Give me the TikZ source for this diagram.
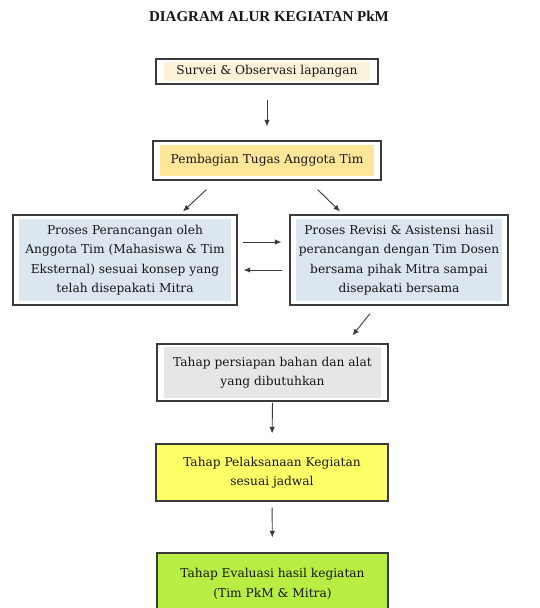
\documentclass[tikz,border=0pt]{standalone}
\usepackage{fontspec}
\setmainfont{Liberation Serif}
\newfontfamily\bodyfnt{DejaVu Serif}
\usetikzlibrary{arrows.meta}
\definecolor{bordc}{HTML}{3A3A3A}
\definecolor{txtc}{HTML}{161616}
\definecolor{creamc}{HTML}{FDF1D9}
\definecolor{goldc}{HTML}{FFE699}
\definecolor{bluec}{HTML}{DCE6F1}
\definecolor{grayc}{HTML}{E6E6E6}
\definecolor{yellowc}{HTML}{FFFF66}
\definecolor{greenc}{HTML}{B8EE44}
\tikzset{
  box/.style={draw=bordc, line width=1.2pt, fill=white, inner sep=0pt, align=center,
    text=txtc, font=\bodyfnt\fontsize{12.2}{19.5}\selectfont},
  inset/.style n args={3}{path picture={\fill[#3] ([shift={(#1,-#2)}]path picture bounding box.north west) rectangle ([shift={(-#1,#2)}]path picture bounding box.south east);}},
  arr/.style={draw=bordc, line width=0.9pt, -{Latex[length=6.5pt,width=5.5pt]}},
}
\begin{document}
\begin{tikzpicture}[x=1pt,y=-1pt]
\clip (0,0) rectangle (539,608);
\fill[white] (0,0) rectangle (539,608);
\node[font=\fontsize{15}{17}\selectfont\bfseries, text=txtc] (title) at (269,16) {DIAGRAM ALUR KEGIATAN PkM};
\node[box, inset={8pt}{3pt}{creamc}, minimum width=222pt, minimum height=25pt] (b1) at (267,71.5) {Survei \& Observasi lapangan};
\node[box, inset={7pt}{4pt}{goldc}, minimum width=228pt, minimum height=39pt] (b2) at (267,160.5) {Pembagian Tugas Anggota Tim};
\node[box, inset={6pt}{4pt}{bluec}, minimum width=224pt, minimum height=90pt] (bL) at (125,260) {Proses Perancangan oleh\\Anggota Tim (Mahasiswa \& Tim\\Eksternal) sesuai konsep yang\\telah disepakati Mitra};
\node[box, inset={6pt}{4pt}{bluec}, minimum width=218pt, minimum height=90pt] (bR) at (399,260) {Proses Revisi \& Asistensi hasil\\perancangan dengan Tim Dosen\\bersama pihak Mitra sampai\\disepakati bersama};
\node[box, inset={7pt}{3pt}{grayc}, minimum width=231pt, minimum height=57pt] (b4) at (272.5,372.5) {Tahap persiapan bahan dan alat\\yang dibutuhkan};
\node[box, fill=yellowc, minimum width=232pt, minimum height=57pt] (b5) at (272,472.5) {Tahap Pelaksanaan Kegiatan\\sesuai jadwal};
\node[box, fill=greenc, minimum width=231pt, minimum height=62pt] (b6) at (272.5,584) {Tahap Evaluasi hasil kegiatan\\(Tim PkM \& Mitra)};
\draw[arr, shorten <=15pt, shorten >=14pt] (b1.south) -- (b2.north);
\draw[arr] ([shift={(54,9)}]b2.south west) -- ([shift={(58,-3)}]bL.north);
\draw[arr] ([shift={(-64,9)}]b2.south east) -- ([shift={(-59,-3)}]bR.north);
\draw[arr] ([shift={(5,-18)}]bL.east) -- ([shift={(-8,-18)}]bR.west);
\draw[arr] ([shift={(-7,10)}]bR.west) -- ([shift={(6,10)}]bL.east);
\draw[arr] ([shift={(-29,8)}]bR.south) -- ([shift={(80,-8)}]b4.north);
\draw[arr, shorten <=1pt, shorten >=10pt] (b4.south) -- (b5.north);
\draw[arr, shorten <=6pt, shorten >=15pt] (b5.south) -- (b6.north);
\end{tikzpicture}
\end{document}
